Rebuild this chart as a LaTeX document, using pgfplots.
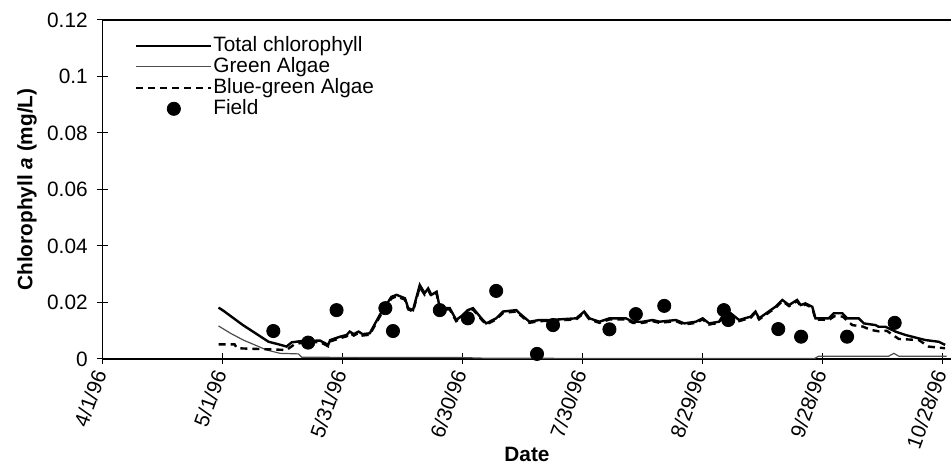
\documentclass[border=0pt]{standalone}
\usepackage{fontspec}
\setmainfont{Liberation Sans}
\usepackage{pgfplots}
\pgfplotsset{compat=1.18}
\pgfplotsset{field legend/.style={legend image code/.code={\draw[mark repeat=2,mark phase=2,##1] plot coordinates {(0pt,0pt) (18.75pt,0pt) (37.5pt,0pt)};}}}

\begin{document}
\fontsize{10.4}{12.5}\selectfont
\begin{tikzpicture}[font=\fontsize{10.4}{12.5}\selectfont]
\path[use as bounding box] (-51.25pt,-57.5pt) rectangle (424.25pt,179.5pt);
\begin{axis}[
  scale only axis, width=424.5pt, height=169.5pt,
  xmin=0, xmax=212.2, ymin=0, ymax=0.12,
  axis x line*=bottom, axis y line*=left,
  axis line style={line width=0.8pt},
  tick align=center, major tick length=5.5pt,
  tick style={black, line width=0.5pt},
  xtick={0,30,60,90,120,150,180,210},
  xticklabels={4/1/96,5/1/96,5/31/96,6/30/96,7/30/96,8/29/96,9/28/96,10/28/96},
  xticklabel style={rotate=70, anchor=east, font=\fontsize{10.4}{12.5}\selectfont},
  ytick={0,0.02,0.04,0.06,0.08,0.1,0.12},
  scaled y ticks=false,
  yticklabel style={/pgf/number format/fixed, /pgf/number format/precision=2, font=\fontsize{10.4}{12.5}\selectfont, xshift=-1pt},
  /pgf/number format/assume math mode=true,
  xlabel={\textbf{Date}},
  xlabel style={at={(axis description cs:0.5,-0.283)}, anchor=center},
  ylabel={\textbf{Chlorophyll \textit{a} (mg/L)}},
  ylabel style={at={(axis description cs:-0.0889,0.5)}, anchor=center},
  legend style={at={(axis description cs:0.038,0.956)}, anchor=north west, draw=none, fill=none,
     inner sep=0pt, font=\fontsize{10.4}{12.5}\selectfont,
     nodes={inner sep=0.4pt, text height=7.5pt, text depth=2.2pt, anchor=west}},
  legend cell align=left,
  legend image code/.code={\draw[#1] (0pt,0pt) -- (37.5pt,0pt);},
  after end axis/.code={\draw[line width=0.8pt] (rel axis cs:0,1) -- (rel axis cs:1,1);},
]
% Total chlorophyll
\addplot[black, line width=1.2pt] coordinates {
(29,0.0182) (30.2,0.0171) (35,0.0121) (41.5,0.0061) (44,0.0052) (46,0.0044) (47.3,0.0059)
(50,0.0064) (54.4,0.0065) (56.4,0.0050) (56.9,0.0067) (59.4,0.0079) (61,0.0085) (61.8,0.0097)
(62.8,0.0088) (64,0.0097) (65,0.0088) (66.8,0.0091) (69.3,0.0156) (72.2,0.022) (73.5,0.0227)
(75.6,0.0215) (76.4,0.018) (77.6,0.0173) (79.3,0.0262) (80.5,0.0233) (81.4,0.025) (82.2,0.0227)
(83.5,0.0238) (84.3,0.018) (86.8,0.018) (88.4,0.0138) (90.1,0.0156) (91.3,0.0173) (92.6,0.018)
(94.7,0.0144) (95.9,0.0126) (98.4,0.0144) (100.1,0.0168) (103.4,0.0173) (104.2,0.0162)
(106.7,0.0132) (109.2,0.0138) (111.7,0.0138) (118.4,0.0144) (120.4,0.0168) (121.7,0.0144)
(124.2,0.0132) (126.7,0.0144) (130.8,0.0144) (132.5,0.0132) (135,0.0132) (137.5,0.0138)
(139.2,0.0132) (143.3,0.0138) (145.4,0.0126) (148.3,0.0132) (150,0.0144) (151.6,0.0126)
(154.1,0.0132) (154.9,0.015) (157,0.0162) (159.1,0.0138) (162,0.015) (163.2,0.0168)
(164.1,0.0144) (165.3,0.0156) (168.2,0.0185) (169.9,0.0209) (171.6,0.0191) (173.6,0.0209)
(174.5,0.0191) (175.7,0.0197) (177.4,0.0185) (178.2,0.0144) (181.5,0.0144) (182.8,0.0162)
(184.9,0.0162) (186.1,0.0144) (189,0.0144) (190.3,0.0126) (193.2,0.012) (194,0.0114)
(195.7,0.0114) (198.2,0.0097) (200.7,0.0085) (204,0.0073) (205.7,0.0067) (209,0.0061) (210.6,0.005)
};
\addlegendentry{Total chlorophyll}
% Green algae
\addplot[black!70, line width=0.6pt] coordinates {
(29,0.0117) (32,0.0091) (35.2,0.0067) (37.7,0.0052) (41,0.0032) (44.4,0.002) (49,0.0018)
(49.8,0.0006) (90,0.0005) (95,0.0003) (120,0.0002) (150,0.0002) (178,0.0002) (179,0.001)
(196.5,0.001) (197.8,0.002) (199,0.001) (211,0.001)
};
\addlegendentry{Green Algae}
% Blue-green algae
\addplot[black, line width=1.2pt, dash pattern=on 3.5pt off 2.5pt] coordinates {
(29,0.0052) (33,0.0052) (33.6,0.0038) (46,0.0032) (48,0.0052) (50,0.0058) (54.4,0.0060)
(56.4,0.0045) (56.9,0.0062) (59.4,0.0074) (61,0.0080) (61.8,0.0092) (62.8,0.0083) (64,0.0092)
(65,0.0083) (66.8,0.0086) (69.3,0.0150) (72.2,0.0214) (73.5,0.0222) (75.6,0.0210) (76.4,0.0176)
(77.6,0.0168) (79.3,0.0255) (80.5,0.0228) (81.4,0.0244) (82.2,0.0222) (83.5,0.0232) (84.3,0.0176)
(86.8,0.0175) (88.4,0.0134) (90.1,0.0151) (91.3,0.0168) (92.6,0.0175) (94.7,0.0140) (95.9,0.0122)
(98.4,0.0140) (100.1,0.0163) (103.4,0.0168) (104.2,0.0158) (106.7,0.0128) (109.2,0.0134)
(111.7,0.0135) (118.4,0.0140) (120.4,0.0164) (121.7,0.0140) (124.2,0.0128) (126.7,0.0140)
(130.8,0.0140) (132.5,0.0128) (135,0.0128) (137.5,0.0134) (139.2,0.0128) (143.3,0.0134)
(145.4,0.0122) (148.3,0.0128) (150,0.0140) (151.6,0.0122) (154.1,0.0128) (154.9,0.0146)
(157,0.0158) (159.1,0.0134) (162,0.0146) (163.2,0.0164) (164.1,0.0140) (165.3,0.0152)
(168.2,0.0181) (169.9,0.0205) (171.6,0.0187) (173.6,0.0205) (174.5,0.0187) (175.7,0.0193)
(177.4,0.0181) (178.2,0.0140) (181.5,0.0138) (183,0.0152) (185,0.0150) (187.4,0.012)
(190,0.0115) (192,0.0103) (194,0.0098) (196,0.0100) (199,0.0071) (204,0.0067) (206.5,0.0044)
(210.6,0.0038)
};
\addlegendentry{Blue-green Algae}
% Field
\addplot[only marks, mark=*, mark size=3.3pt, black, field legend]
coordinates {
(42.7,0.0099) (51.4,0.0058) (58.5,0.0173) (70.7,0.018) (72.6,0.0099) (84.3,0.0173)
(91.3,0.0144) (98.4,0.0241) (108.6,0.0018) (112.6,0.012) (126.7,0.0105) (133.3,0.0159)
(140.4,0.0188) (155.3,0.0173) (156.4,0.0138) (168.9,0.0106) (174.6,0.0079) (186.1,0.0079)
(198,0.0128)
};
\addlegendentry{Field}
\end{axis}
\end{tikzpicture}
\end{document}
